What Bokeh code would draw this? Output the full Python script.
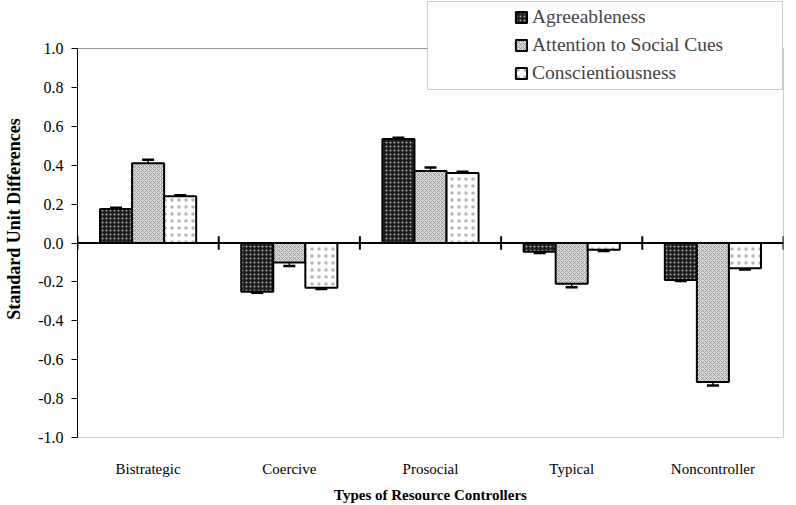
from bokeh.plotting import figure
from bokeh.models import (ColumnDataSource, FactorRange, Range1d, Whisker, TeeHead,
                          Legend, LegendItem, NumeralTickFormatter, FixedTicker, BoxAnnotation)
from bokeh.transform import dodge
from bokeh.embed import file_html
from bokeh.resources import INLINE

categories = ["Bistrategic", "Coercive", "Prosocial", "Typical", "Noncontroller"]
series = ["Agreeableness", "Attention to Social Cues", "Conscientiousness"]
agreeableness = [0.175, -0.25, 0.535, -0.045, -0.19]
attention = [0.41, -0.10, 0.37, -0.21, -0.715]
conscientiousness = [0.24, -0.23, 0.36, -0.035, -0.13]
err_agree = [0.006, 0.006, 0.006, 0.006, 0.006]
err_attn = [0.018, 0.018, 0.018, 0.018, 0.018]
err_consc = [0.006, 0.006, 0.006, 0.006, 0.006]
y_ticks = [-1.0, -0.8, -0.6, -0.4, -0.2, 0.0, 0.2, 0.4, 0.6, 0.8, 1.0]
y_min, y_max = -1.0, 1.0

SERIF = "Liberation Serif"

# layout (pixels)
W_FIG, H_FIG = 796, 505
LEFT, RIGHT, BOTTOM = 77, 13, 68
PLOT_TOP = 48  # pixel row where y = y_max sits; frame extends up to the canvas top
px_per_unit = (H_FIG - BOTTOM - PLOT_TOP) / (y_max - y_min)
y_top = y_max + PLOT_TOP / px_per_unit

src = ColumnDataSource(dict(
    cat=categories,
    agree=agreeableness, attn=attention, consc=conscientiousness,
    agree_lo=[v - e for v, e in zip(agreeableness, err_agree)],
    agree_hi=[v + e for v, e in zip(agreeableness, err_agree)],
    attn_lo=[v - e for v, e in zip(attention, err_attn)],
    attn_hi=[v + e for v, e in zip(attention, err_attn)],
    consc_lo=[v - e for v, e in zip(conscientiousness, err_consc)],
    consc_hi=[v + e for v, e in zip(conscientiousness, err_consc)],
))

p = figure(x_range=FactorRange(factors=categories, range_padding=0),
           y_range=Range1d(y_min, y_top),
           width=W_FIG, height=H_FIG, output_backend="svg", toolbar_location=None,
           min_border_left=LEFT, min_border_right=RIGHT, min_border_top=0,
           min_border_bottom=BOTTOM)
p.xgrid.visible = False
p.ygrid.visible = False
p.outline_line_color = None
p.background_fill_color = "white"
p.border_fill_color = "white"

# light plot-area border (top, bottom, right)
n = len(categories)
p.segment(x0=[0, 0, n], x1=[n, n, n], y0=[y_max, y_min, y_min], y1=[y_max, y_min, y_max],
          line_color="#9a9a9a", line_width=1)

W = 0.227
specs = [
    ("agree", -W, dict(fill_color="#1e1e1e", hatch_pattern="dot", hatch_color="#a8a8a8",
                       hatch_scale=4, hatch_weight=1)),
    ("attn", 0.0, dict(fill_color="#dadada", hatch_pattern="diagonal_cross", hatch_color="#7a7a7a",
                       hatch_scale=4, hatch_weight=0.6)),
    ("consc", W, dict(fill_color="white", hatch_pattern="dot", hatch_color="#b5b5b5",
                      hatch_scale=7, hatch_weight=1)),
]
renderers = []
for key, off, style in specs:
    r = p.vbar(x=dodge("cat", off, range=p.x_range), top=key, bottom=0, width=W, source=src,
               line_color="black", line_width=2, **style)
    renderers.append(r)
    wk = Whisker(base=dodge("cat", off, range=p.x_range), upper=key + "_hi", lower=key + "_lo",
                 source=src, line_color="black", line_width=1.5,
                 upper_head=TeeHead(size=12, line_width=2.5, line_color="black"),
                 lower_head=TeeHead(size=12, line_width=2.5, line_color="black"))
    p.add_layout(wk)

# zero line and category boundary ticks
p.segment(x0=[0], x1=[n], y0=[0], y1=[0], line_color="black", line_width=2)
bounds = list(range(n + 1))
p.segment(x0=bounds, x1=bounds, y0=[-0.035] * len(bounds), y1=[0.035] * len(bounds),
          line_color="black", line_width=2)

# y axis
yax = p.yaxis[0]
yax.bounds = (y_min, y_max)
yax.ticker = FixedTicker(ticks=y_ticks)
yax.formatter = NumeralTickFormatter(format="0.0")
yax.minor_tick_line_color = None
yax.major_tick_out = 6
yax.major_tick_in = 0
yax.axis_line_color = "black"
yax.major_tick_line_color = "black"
yax.major_label_text_font = SERIF
yax.major_label_text_font_size = "16px"
yax.major_label_text_color = "black"
yax.major_label_standoff = 8
yax.axis_label = "Standard Unit Differences"
yax.axis_label_text_font = SERIF
yax.axis_label_text_font_style = "bold"
yax.axis_label_text_font_size = "18px"
yax.axis_label_text_color = "black"
yax.axis_label_standoff = 11

# x axis
xax = p.xaxis[0]
xax.axis_line_color = None
xax.major_tick_line_color = None
xax.minor_tick_line_color = None
xax.major_label_text_font = SERIF
xax.major_label_text_font_size = "15px"
xax.major_label_text_color = "black"
xax.major_label_standoff = 17
xax.axis_label = "Types of Resource Controllers"
xax.axis_label_text_font = SERIF
xax.axis_label_text_font_style = "bold"
xax.axis_label_text_font_size = "15px"
xax.axis_label_text_color = "black"
xax.axis_label_standoff = 7

# legend frame box
p.add_layout(BoxAnnotation(left=427, right=782, top=1, bottom=89,
                           left_units="canvas", right_units="canvas",
                           top_units="canvas", bottom_units="canvas",
                           fill_color="white", fill_alpha=1,
                           line_color="#555555", line_width=1, level="annotation"))

legend = Legend(items=[LegendItem(label=s, renderers=[r]) for s, r in zip(series, renderers)],
                location=(437, 353), orientation="vertical",
                glyph_width=14, glyph_height=14, label_text_font=SERIF,
                label_text_font_size="19.5px", label_height=20, spacing=6,
                padding=6, label_standoff=4, margin=0,
                border_line_color=None,
                background_fill_color="white", background_fill_alpha=0)
p.add_layout(legend)

open("out.html", "w").write(file_html(p, INLINE))
